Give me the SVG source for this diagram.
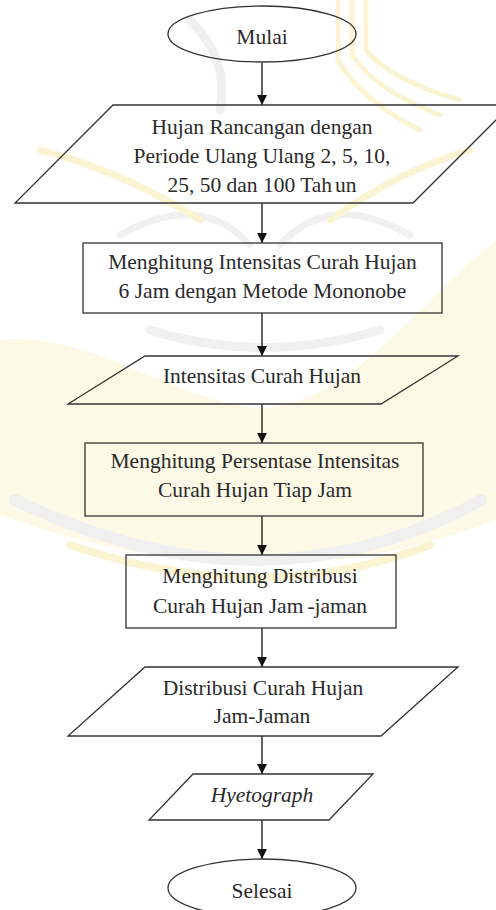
<svg xmlns="http://www.w3.org/2000/svg" width="496" height="910" viewBox="0 0 496 910">
  <style>
    .shape { fill: none; stroke: #333; stroke-width: 1.3; }
    .lbl { font-family: "Liberation Serif", "Times New Roman", serif; font-size: 21.5px; fill: #2a2a2a; text-anchor: middle; }
    .it { font-style: italic; }
    .flow { stroke: #222; stroke-width: 1.4; fill: none; marker-end: url(#head); }
    .wm-y { fill: none; stroke: #faf4d2; stroke-linecap: round; }
    .wm-g { fill: none; stroke: #f0f0f0; stroke-linecap: round; }
  </style>
  <defs>
    <marker id="head" markerUnits="userSpaceOnUse" markerWidth="10" markerHeight="11" refX="10" refY="5" orient="auto">
      <path d="M0,0 L10,5 L0,10 z" fill="#111"/>
    </marker>
  </defs>

  <rect width="496" height="910" fill="#ffffff"/>

  <!-- faint background emblem -->
  <g id="emblem">
    <path d="M0,340 C90,330 180,405 262,408 C350,405 420,300 496,240 L496,520 Q262,610 0,515 Z" fill="#fcf9e6"/>
    <path class="wm-g" stroke-width="12" d="M15,500 Q262,620 481,500"/>
    <path class="wm-y" stroke-width="8" d="M70,545 Q262,610 430,545"/>
    <path class="wm-g" stroke-width="9" d="M150,330 Q262,365 380,330"/>
    <path class="wm-g" stroke-width="7" d="M120,235 Q200,190 250,245"/>
    <path class="wm-g" stroke-width="7" d="M280,245 Q330,190 410,235"/>
    <path class="wm-y" stroke-width="5" d="M338,0 L338,60 Q360,100 420,130"/>
    <path class="wm-y" stroke-width="5" d="M352,0 L352,55 Q375,90 440,115"/>
    <path class="wm-y" stroke-width="5" d="M366,0 L366,50 Q390,80 460,100"/>
    <path class="wm-y" stroke-width="7" d="M40,150 Q120,170 200,220"/>
    <path class="wm-y" stroke-width="7" d="M330,220 Q400,170 470,150"/>
    <path class="wm-g" stroke-width="9" d="M190,20 Q230,60 220,110"/>
  </g>

  <!-- connectors -->
  <g id="connectors">
    <line class="flow" x1="262" y1="63" x2="262" y2="105"/>
    <line class="flow" x1="262" y1="203" x2="262" y2="243"/>
    <line class="flow" x1="262" y1="313" x2="262" y2="356"/>
    <line class="flow" x1="262" y1="404" x2="262" y2="443"/>
    <line class="flow" x1="262" y1="516" x2="262" y2="555"/>
    <line class="flow" x1="262" y1="628" x2="262" y2="667"/>
    <line class="flow" x1="262" y1="736" x2="262" y2="774"/>
    <line class="flow" x1="262" y1="820" x2="262" y2="859"/>
  </g>

  <g id="mulai">
    <ellipse class="shape" cx="262" cy="34" rx="94" ry="28"/>
    <text class="lbl" x="262" y="44">Mulai</text>
  </g>

  <g id="hujan-rancangan">
    <polygon class="shape" points="113,105 511,105 413,203 15,203"/>
    <text class="lbl" x="262" y="134">Hujan Rancangan dengan</text>
    <text class="lbl" x="262" y="163">Periode Ulang Ulang 2, 5, 10,</text>
    <text class="lbl" x="262" y="192">25, 50 dan 100 Tah<tspan dx="3">un</tspan></text>
  </g>

  <g id="hitung-intensitas">
    <rect class="shape" x="83" y="243" width="359" height="70"/>
    <text class="lbl" x="262.5" y="269">Menghitung Intensitas Curah Hujan</text>
    <text class="lbl" x="262.5" y="298">6 Jam dengan Metode Mononobe</text>
  </g>

  <g id="intensitas">
    <polygon class="shape" points="145,356 458,356 381,404 68,404"/>
    <text class="lbl" x="262" y="383">Intensitas Curah Hujan</text>
  </g>

  <g id="hitung-persentase">
    <rect class="shape" x="85" y="443" width="338" height="73"/>
    <text class="lbl" x="255" y="468">Menghitung Persentase Intensitas</text>
    <text class="lbl" x="255" y="497">Curah Hujan Tiap Jam</text>
  </g>

  <g id="hitung-distribusi">
    <rect class="shape" x="126" y="555" width="270" height="73"/>
    <text class="lbl" x="260" y="583">Menghitung Distribusi</text>
    <text class="lbl" x="260" y="613">Curah Hujan Jam<tspan dx="4">-jaman</tspan></text>
  </g>

  <g id="distribusi">
    <polygon class="shape" points="145,667 458,667 381,736 68,736"/>
    <text class="lbl" x="263" y="695">Distribusi Curah Hujan</text>
    <text class="lbl" x="262" y="723">Jam-Jaman</text>
  </g>

  <g id="hyetograph">
    <polygon class="shape" points="193,774 373,774 329,820 149,820"/>
    <text class="lbl it" x="262" y="802">Hyetograph</text>
  </g>

  <g id="selesai">
    <ellipse class="shape" cx="262" cy="888" rx="94" ry="29"/>
    <text class="lbl" x="262" y="898">Selesai</text>
  </g>
</svg>
